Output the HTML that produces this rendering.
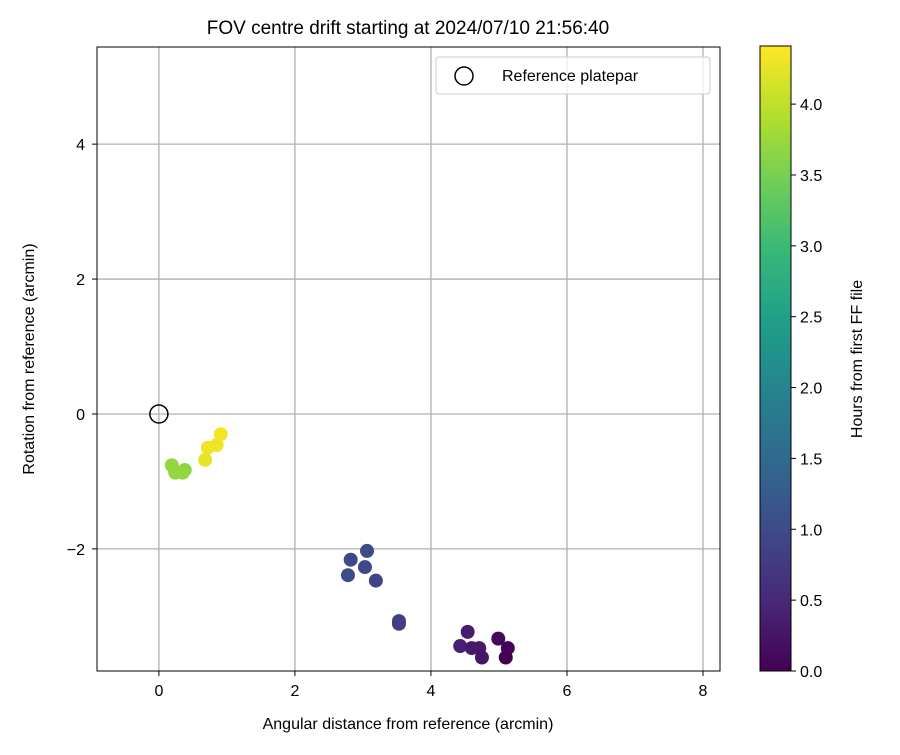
<!DOCTYPE html>
<html><head><meta charset="utf-8"><style>body{margin:0;background:#fff}svg{font-family:"Liberation Sans","DejaVu Sans",sans-serif}</style></head>
<body>
<svg id="c" width="900" height="750" xmlns="http://www.w3.org/2000/svg"></svg>
<script>
const xs=[0.19,0.24,0.38,0.35,0.91,0.85,0.72,0.68,3.06,2.82,3.03,2.78,3.19,3.53,3.53,4.54,4.43,4.60,4.71,4.75,4.99,5.13,5.10];
const ys=[-0.76,-0.87,-0.83,-0.87,-0.30,-0.46,-0.50,-0.68,-2.03,-2.16,-2.27,-2.39,-2.47,-3.07,-3.11,-3.23,-3.44,-3.47,-3.47,-3.61,-3.33,-3.47,-3.61];
const hours=[3.7,3.7,3.65,3.7,4.35,4.3,4.3,4.25,1.0,0.95,0.95,1.0,0.9,0.8,0.8,0.35,0.4,0.3,0.3,0.25,0.1,0.05,0.0];
const xTicks=[0,2,4,6,8];
const yTicks=[-2,0,2,4];
const cTicks=[0,0.5,1,1.5,2,2.5,3,3.5,4];
const L=97,R=720,T=47,B=671,X0=-0.91,X1=8.25,Y0=-3.81,Y1=5.44,C0=0,C1=4.41;
const sx=v=>L+(v-X0)/(X1-X0)*(R-L), sy=v=>B-(v-Y0)/(Y1-Y0)*(B-T);
const CB={l:760,r:791,t:46,b:671}; const cy=v=>CB.b-(v-C0)/(C1-C0)*(CB.b-CB.t);
const vir=[[68,1,84],[72,40,120],[62,74,137],[49,104,142],[38,130,142],[31,158,137],[53,183,121],[109,205,89],[180,222,44],[253,231,37]];
function col(t){t=Math.max(0,Math.min(1,t))*(vir.length-1);const i=Math.min(Math.floor(t),vir.length-2),f=t-i;const a=vir[i],b=vir[i+1];return `rgb(${a.map((v,k)=>Math.round(v+(b[k]-v)*f)).join(',')})`;}
const svg=document.getElementById('c');const NS='http://www.w3.org/2000/svg';
function el(t,at,p){const e=document.createElementNS(NS,t);for(const k in at)e.setAttribute(k,at[k]);(p||svg).appendChild(e);return e;}
function tx(s,at){const e=el('text',Object.assign({'font-size':16,fill:'#000'},at));e.textContent=s;return e;}
xTicks.forEach(v=>{const g=el('line',{x1:sx(v),x2:sx(v),y1:T,y2:B,stroke:'#b0b0b0','stroke-width':1.3});

el('line',{x1:sx(v),x2:sx(v),y1:B,y2:B+5,stroke:'#000'});
const lb=tx(v<0?'\u2212'+(-v):String(v),{x:sx(v),y:B+25,'text-anchor':'middle'});
});
yTicks.forEach(v=>{const g=el('line',{x1:L,x2:R,y1:sy(v),y2:sy(v),stroke:'#b0b0b0','stroke-width':1.3});

el('line',{x1:L-5,x2:L,y1:sy(v),y2:sy(v),stroke:'#000'});
const lb=tx(v<0?'\u2212'+(-v):String(v),{x:L-12,y:sy(v)+6,'text-anchor':'end'});
});
xs.forEach((x,i)=>{const c=el('circle',{cx:sx(x),cy:sy(ys[i]),r:7,fill:col((hours[i]-C0)/(C1-C0))});
});
const ref=el('circle',{cx:sx(0),cy:sy(0),r:9,fill:'none',stroke:'#000','stroke-width':1.5});

const fr=el('rect',{x:L,y:T,width:R-L,height:B-T,fill:'none',stroke:'#000','stroke-width':1});

const lg=el('g',{});
el('rect',{x:436,y:57,width:274,height:37,rx:3,fill:'#fff','fill-opacity':0.8,stroke:'#ccc'},lg);
el('circle',{cx:464,cy:76,r:9,fill:'none',stroke:'#000','stroke-width':1.5},lg);
const lt=el('text',{x:502,y:81,'font-size':16},lg);lt.textContent='Reference platepar';
const ti=tx('FOV centre drift starting at 2024/07/10 21:56:40',{x:408,y:34,'text-anchor':'middle','font-size':19});

const xl=tx('Angular distance from reference (arcmin)',{x:408,y:729,'text-anchor':'middle'});

const yl=tx('Rotation from reference (arcmin)',{x:0,y:0,'text-anchor':'middle',transform:`translate(34,359) rotate(-90)`});

const defs=el('defs',{});const gr=el('linearGradient',{id:'vg',x1:0,y1:1,x2:0,y2:0},defs);
vir.forEach((c,i)=>el('stop',{offset:i/(vir.length-1),'stop-color':`rgb(${c.join(',')})`},gr));
const cb=el('rect',{x:CB.l,y:CB.t,width:CB.r-CB.l,height:CB.b-CB.t,fill:'url(#vg)',stroke:'#000'});

cTicks.forEach(v=>{el('line',{x1:CB.r,x2:CB.r+5,y1:cy(v),y2:cy(v),stroke:'#000'});
const lb=tx(v.toFixed(1),{x:CB.r+9,y:cy(v)+6});});
const cl=tx('Hours from first FF file',{x:0,y:0,'text-anchor':'middle',transform:`translate(862,359) rotate(-90)`});

</script>
</body></html>
